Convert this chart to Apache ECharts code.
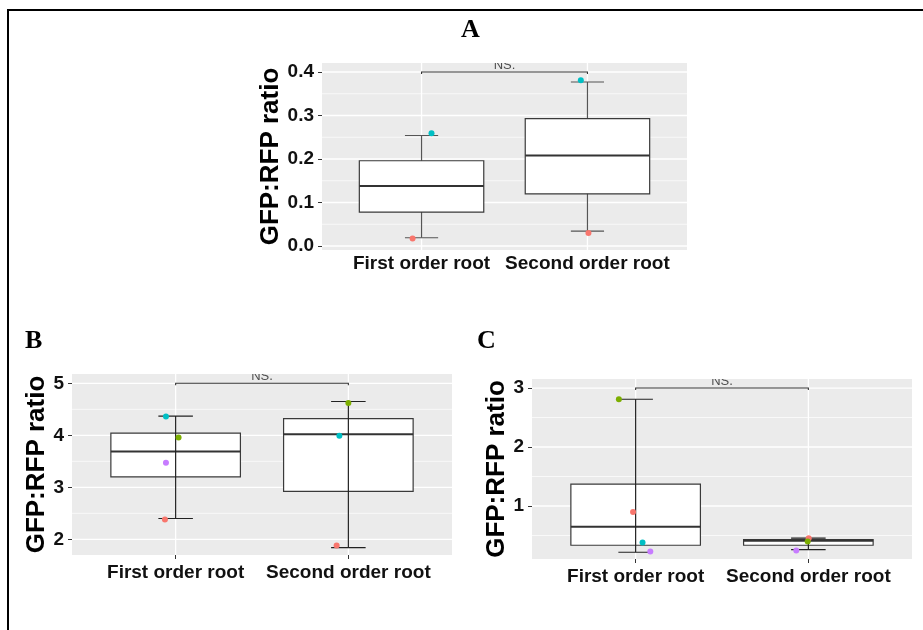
<!DOCTYPE html>
<html>
<head>
<meta charset="utf-8">
<script src="https://cdn.jsdelivr.net/npm/echarts@6/dist/echarts.min.js"></script>
<style>
  html, body { margin: 0; padding: 0; background: #fff; }
  #chart { width: 923px; height: 630px; }
</style>
</head>
<body>
<div id="chart"></div>
<script>
// Category labels shared by all three panels
const categories = ['First order root', 'Second order root'];

// Box summaries per category: [lower whisker, Q1, median, Q3, upper whisker]
const boxA = [
  [0.019, 0.078, 0.138, 0.196, 0.254],
  [0.034, 0.120, 0.208, 0.293, 0.377]
];
const boxB = [
  [2.40, 3.20, 3.69, 4.04, 4.37],
  [1.84, 2.92, 4.02, 4.32, 4.65]
];
const boxC = [
  [0.216, 0.335, 0.65, 1.37, 2.81],
  [0.26, 0.335, 0.41, 0.43, 0.455]
];

// Replicate points: category index, replicate number, value, jitter
const ptCatA = [0, 0, 1, 1];
const ptRepA = [3, 1, 3, 1];
const ptValA = [0.259, 0.017, 0.381, 0.030];
const ptJitA = [0.06, -0.054, -0.04, 0.006];

const ptCatB = [0, 0, 0, 0, 1, 1, 1];
const ptRepB = [3, 2, 4, 1, 2, 3, 1];
const ptValB = [4.36, 3.96, 3.47, 2.38, 4.62, 3.99, 1.88];
const ptJitB = [-0.056, 0.017, -0.056, -0.062, 0.0, -0.052, -0.068];

const ptCatC = [0, 0, 0, 0, 1, 1, 1];
const ptRepC = [2, 1, 3, 4, 1, 2, 4];
const ptValC = [2.81, 0.90, 0.38, 0.23, 0.455, 0.40, 0.245];
const ptJitC = [-0.097, -0.015, 0.04, 0.085, 0.002, -0.004, -0.07];

// Significance bracket height and label
const bracketA = 0.4, bracketB = 5, bracketC = 3;
const sigLabel = 'NS.';

// Axis ticks (major) and minor gridlines
const majorA = [0, 0.1, 0.2, 0.3, 0.4];
const minorA = [0.05, 0.15, 0.25, 0.35];
const majorB = [2, 3, 4, 5];
const minorB = [2.5, 3.5, 4.5];
const majorC = [1, 2, 3];
const minorC = [0.5, 1.5, 2.5];

const yTitle = 'GFP:RFP ratio';
const panelLetters = ['A', 'B', 'C'];

// ---- styling / layout ----
const repColors = { 1: '#F8766D', 2: '#7CAE00', 3: '#00BFC4', 4: '#C77CFF' };
const sans = '"Liberation Sans", Arial, sans-serif';

const panels = [
  { box: boxA, cat: ptCatA, rep: ptRepA, val: ptValA, jit: ptJitA, bracket: bracketA,
    major: majorA, minor: minorA, digits: 1, ymin: -0.0092, ymax: 0.4207,
    grid: { left: 322, top: 63, width: 365, height: 187 }, nameGap: 37, xMargin: 4,
    whiskerOnTop: false, whiskerColor: '#555' },
  { box: boxB, cat: ptCatB, rep: ptRepB, val: ptValB, jit: ptJitB, bracket: bracketB,
    major: majorB, minor: minorB, digits: 0, ymin: 1.698, ymax: 5.179,
    grid: { left: 72, top: 374, width: 380, height: 181 }, nameGap: 19, xMargin: 8,
    whiskerOnTop: true, whiskerColor: '#222' },
  { box: boxC, cat: ptCatC, rep: ptRepC, val: ptValC, jit: ptJitC, bracket: bracketC,
    major: majorC, minor: minorC, digits: 0, ymin: 0.102, ymax: 3.153,
    grid: { left: 532, top: 379, width: 380, height: 180 }, nameGap: 19, xMargin: 8,
    whiskerOnTop: true, whiskerColor: '#222' }
];

const grids = [], xAxes = [], yAxes = [], series = [];

panels.forEach((p, i) => {
  grids.push(Object.assign({
    show: true, backgroundColor: '#EBEBEB', borderWidth: 0
  }, p.grid));

  xAxes.push({
    type: 'value', gridIndex: i, min: 0.4, max: 2.6,
    axisLine: { show: false },
    splitLine: { show: false },
    axisTick: { show: true, customValues: [1, 2], length: 4, lineStyle: { color: '#333' } },
    axisLabel: {
      customValues: [1, 2], margin: p.xMargin,
      formatter: v => categories[Math.round(v) - 1] || '',
      color: '#111', fontFamily: sans, fontWeight: 'bold', fontSize: 19
    }
  });

  yAxes.push({
    type: 'value', gridIndex: i, min: p.ymin, max: p.ymax,
    name: yTitle, nameLocation: 'middle', nameGap: p.nameGap,
    nameTextStyle: { color: '#000', fontFamily: sans, fontWeight: 'bold', fontSize: 26 },
    axisLine: { show: false },
    splitLine: { show: false },
    axisTick: { show: true, customValues: p.major, length: 4, lineStyle: { color: '#333' } },
    axisLabel: {
      customValues: p.major, margin: 8,
      formatter: v => v.toFixed(p.digits),
      color: '#111', fontFamily: sans, fontWeight: 'bold', fontSize: 19
    }
  });

  // horizontal gridlines (major + minor)
  const hData = p.major.map(v => [v, 1]).concat(p.minor.map(v => [v, 0]));
  series.push({
    type: 'custom', xAxisIndex: i, yAxisIndex: i, z: 1, silent: true,
    encode: { x: -1, y: 0 },
    data: hData,
    renderItem(params, api) {
      const cs = params.coordSys;
      const y = api.coord([1, api.value(0)])[1];
      return {
        type: 'line',
        shape: { x1: cs.x, y1: y, x2: cs.x + cs.width, y2: y },
        style: { stroke: '#FFFFFF', lineWidth: api.value(1) ? 1.3 : 0.7 }
      };
    }
  });

  // vertical gridlines at the categories
  series.push({
    type: 'custom', xAxisIndex: i, yAxisIndex: i, z: 1, silent: true,
    encode: { x: 0, y: -1 },
    data: categories.map((c, k) => [k + 1]),
    renderItem(params, api) {
      const cs = params.coordSys;
      const x = api.coord([api.value(0), p.ymin])[0];
      return {
        type: 'line',
        shape: { x1: x, y1: cs.y, x2: x, y2: cs.y + cs.height },
        style: { stroke: '#FFFFFF', lineWidth: 1.3 }
      };
    }
  });

  // box-and-whisker marks
  series.push({
    type: 'custom', xAxisIndex: i, yAxisIndex: i, z: 2, silent: true,
    encode: { x: 0, y: [1, 2, 3, 4, 5] },
    data: p.box.map((b, k) => [k + 1].concat(b)),
    renderItem(params, api) {
      const x = api.value(0);
      const c = api.coord([x, api.value(3)]);
      const yLow = api.coord([x, api.value(1)])[1];
      const yQ1 = api.coord([x, api.value(2)])[1];
      const yMed = c[1];
      const yQ3 = api.coord([x, api.value(4)])[1];
      const yHigh = api.coord([x, api.value(5)])[1];
      const halfBox = api.size([0.375, 0])[0];
      const halfCap = api.size([0.1, 0])[0];
      const cx = c[0];
      const wStyle = { stroke: p.whiskerColor, lineWidth: 1.2 };
      const whisker = [
        { type: 'line', shape: { x1: cx, y1: yLow, x2: cx, y2: yHigh }, style: wStyle },
        { type: 'line', shape: { x1: cx - halfCap, y1: yLow, x2: cx + halfCap, y2: yLow }, style: wStyle },
        { type: 'line', shape: { x1: cx - halfCap, y1: yHigh, x2: cx + halfCap, y2: yHigh }, style: wStyle }
      ];
      const box = [
        { type: 'rect', shape: { x: cx - halfBox, y: yQ3, width: 2 * halfBox, height: yQ1 - yQ3 },
          style: { fill: '#FFFFFF', stroke: '#3a3a3a', lineWidth: 1.2 } },
        { type: 'line', shape: { x1: cx - halfBox, y1: yMed, x2: cx + halfBox, y2: yMed },
          style: { stroke: '#333', lineWidth: 2 } }
      ];
      return { type: 'group', children: p.whiskerOnTop ? box.concat(whisker) : whisker.concat(box) };
    }
  });

  // replicate points
  series.push({
    type: 'scatter', xAxisIndex: i, yAxisIndex: i, z: 3, silent: true,
    symbolSize: 6,
    data: p.val.map((v, k) => ({
      value: [p.cat[k] + 1 + p.jit[k], v],
      itemStyle: { color: repColors[p.rep[k]], opacity: 1 }
    }))
  });

  // significance bracket
  series.push({
    type: 'custom', xAxisIndex: i, yAxisIndex: i, z: 4, silent: true, clip: true,
    encode: { x: [0, 1], y: 2 },
    data: [[1, 2, p.bracket]],
    renderItem(params, api) {
      const a = api.coord([api.value(0), api.value(2)]);
      const b = api.coord([api.value(1), api.value(2)]);
      return {
        type: 'group',
        children: [
          { type: 'polyline',
            shape: { points: [[a[0], a[1] + 2], [a[0], a[1]], [b[0], b[1]], [b[0], b[1] + 2]] },
            style: { stroke: '#333', lineWidth: 1.1, fill: null } },
          { type: 'text',
            style: { x: (a[0] + b[0]) / 2, y: a[1] - 0.5, text: sigLabel,
              align: 'center', verticalAlign: 'bottom',
              fill: '#4d4d4d', font: '13px ' + sans } }
        ]
      };
    }
  });
});

const letterFont = 'bold 26px "Liberation Serif", "Times New Roman", serif';

const option = {
  animation: false,
  backgroundColor: '#FFFFFF',
  grid: grids,
  xAxis: xAxes,
  yAxis: yAxes,
  series: series,
  graphic: [
    { type: 'polyline', z: 10, silent: true,
      shape: { points: [[8, 630], [8, 10], [923, 10]] },
      style: { stroke: '#000', lineWidth: 2, fill: null } },
    { type: 'text', left: 461, top: 17, silent: true,
      style: { text: panelLetters[0], font: letterFont, fill: '#000' } },
    { type: 'text', left: 25, top: 328, silent: true,
      style: { text: panelLetters[1], font: letterFont, fill: '#000' } },
    { type: 'text', left: 477, top: 328, silent: true,
      style: { text: panelLetters[2], font: letterFont, fill: '#000' } }
  ]
};

const chart = echarts.init(document.getElementById('chart'), null, { renderer: 'canvas' });
chart.setOption(option);
</script>
</body>
</html>
